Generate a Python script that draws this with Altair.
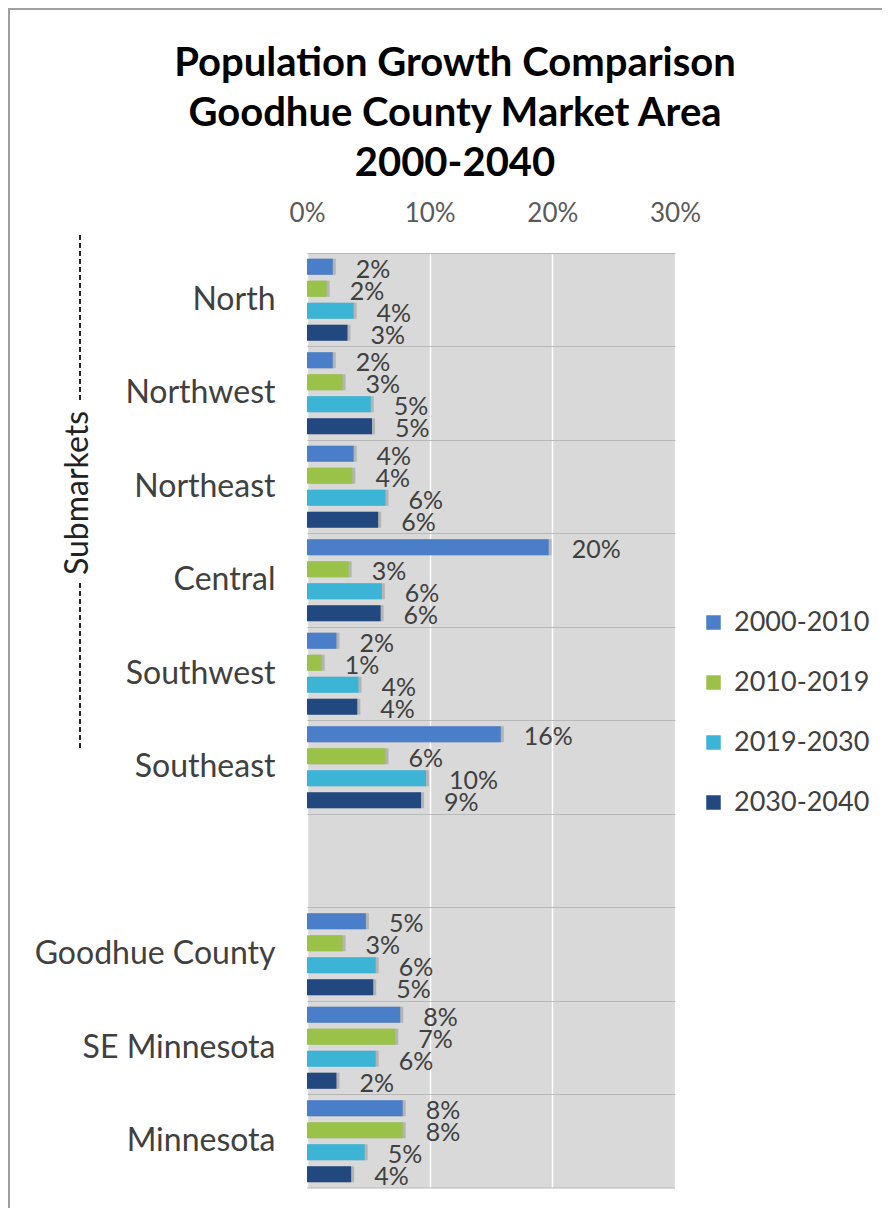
import altair as alt
import pandas as pd

title_lines = ["Population Growth Comparison", "Goodhue County Market Area", "2000-2040"]
categories = ["North", "Northwest", "Northeast", "Central", "Southwest", "Southeast", " ",
              "Goodhue County", "SE Minnesota", "Minnesota"]
periods = ["2000-2010", "2010-2019", "2019-2030", "2030-2040"]
colors = ["#4a7ec8", "#9ac249", "#3bb4d6", "#21487f"]

g_2000_2010 = [0.021, 0.021, 0.038, 0.197, 0.024, 0.158, None, 0.048, 0.076, 0.078]
g_2010_2019 = [0.016, 0.029, 0.037, 0.034, 0.012, 0.064, None, 0.029, 0.072, 0.078]
g_2019_2030 = [0.038, 0.052, 0.064, 0.061, 0.042, 0.097, None, 0.056, 0.056, 0.047]
g_2030_2040 = [0.033, 0.053, 0.058, 0.060, 0.041, 0.093, None, 0.054, 0.024, 0.036]

x_ticks = [0, 0.1, 0.2, 0.3]

rows = []
for period, vals in zip(periods, [g_2000_2010, g_2010_2019, g_2019_2030, g_2030_2040]):
    for cat, v in zip(categories, vals):
        if v is not None:
            rows.append({"area": cat, "period": period, "growth": v})
df = pd.DataFrame(rows)

W, H = 368, 935
FONT = "Lato"
TXT = "#404040"

x_enc = alt.X("growth:Q",
              scale=alt.Scale(domain=[0, 0.3], nice=False, zero=True),
              axis=alt.Axis(orient="top", values=x_ticks, format=".0%", title=None,
                            domain=False, ticks=False, labelPadding=27, labelFlush=False,
                            labelFont=FONT, labelFontSize=26, labelColor="#595959",
                            grid=True, gridColor="#ffffff", gridWidth=1.5))
y_enc = alt.Y("area:N", sort=categories,
              scale=alt.Scale(domain=categories, paddingInner=0, paddingOuter=0),
              axis=alt.Axis(title=None, domain=False, ticks=False, labelPadding=32,
                            labelLimit=400,
                            labelFont=FONT, labelFontSize=32, labelColor=TXT,
                            grid=True, bandPosition=0, gridColor="#b8b8b8", gridWidth=1.2))
yoff_enc = alt.YOffset("period:N", sort=periods,
                       scale=alt.Scale(domain=periods, paddingInner=0.27, paddingOuter=0.26))

base = alt.Chart(df)

shadow = base.mark_bar(color="#6f6f6f", opacity=0.35, xOffset=3, yOffset=3).encode(
    x=x_enc, y=y_enc, yOffset=yoff_enc)

bars = base.mark_bar().encode(
    x=x_enc, y=y_enc, yOffset=yoff_enc,
    color=alt.Color("period:N", sort=periods,
                    scale=alt.Scale(domain=periods, range=colors),
                    legend=alt.Legend(title=None, orient="none", legendX=393, legendY=356,
                                      symbolType="square", symbolSize=210, symbolStrokeWidth=0,
                                      labelFont=FONT, labelFontSize=27, labelColor=TXT,
                                      labelOffset=7, rowPadding=32, labelLimit=300)))

labels = base.mark_text(align="left", baseline="middle", dx=23, dy=3,
                        font=FONT, fontSize=25, color=TXT).encode(
    x=x_enc, y=y_enc, yOffset=yoff_enc,
    text=alt.Text("growth:Q", format=".0%"))

deco = alt.Chart(alt.Data(values=[{}]))
bottom_line = deco.mark_rule(color="#b8b8b8", strokeWidth=1.2).encode(
    x=alt.value(0), x2=alt.value(W), y=alt.value(H))
dash1 = deco.mark_rule(color="#222222", strokeWidth=2, strokeDash=[5, 3]).encode(
    x=alt.value(-227), y=alt.value(-18), y2=alt.value(150))
dash2 = deco.mark_rule(color="#222222", strokeWidth=2, strokeDash=[5, 3]).encode(
    x=alt.value(-227), y=alt.value(330), y2=alt.value(497))
sub_label = deco.mark_text(angle=270, align="center", baseline="middle",
                           font=FONT, fontSize=32, color="#222222").encode(
    x=alt.value(-229), y=alt.value(240), text=alt.value("Submarkets"))
frame_top = deco.mark_rule(color="#a0a0a0", strokeWidth=2).encode(
    x=alt.value(-299), x2=alt.value(W + 207), y=alt.value(-244))
frame_left = deco.mark_rule(color="#a0a0a0", strokeWidth=2).encode(
    x=alt.value(-298), y=alt.value(-245), y2=alt.value(H + 20))

title_marks = []
for i, line in enumerate(title_lines):
    title_marks.append(
        deco.mark_text(align="center", baseline="middle", font=FONT, fontSize=40,
                       fontWeight="bold", color="#000000").encode(
            x=alt.value(148), y=alt.value(-189 + 50 * i), text=alt.value(line)))

chart = alt.layer(shadow, bars, labels, bottom_line, dash1, dash2, sub_label,
                  frame_top, frame_left, *title_marks).properties(
    width=W, height=H,
    autosize=alt.AutoSizeParams(type="none"),
    padding={"left": 299, "top": 245, "right": 207, "bottom": 20},
    background="#ffffff",
).configure_view(fill="#d9d9d9", stroke=None)

chart.save("out.html", embed_options={"renderer": "svg", "actions": False})
